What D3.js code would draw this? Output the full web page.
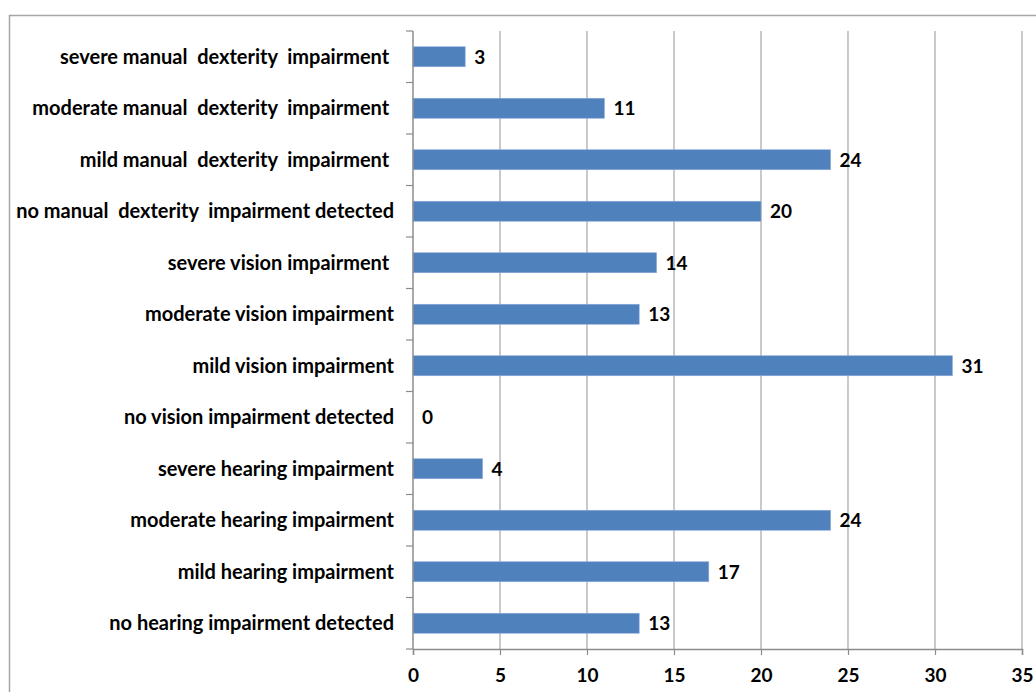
<!DOCTYPE html>
<html>
<head>
<meta charset="utf-8">
<script src="https://cdn.jsdelivr.net/npm/d3@7"></script>
<style>
  body { margin: 0; background: #fff; }
  text { font-family: Lato, "Open Sans", sans-serif; font-weight: bold; fill: #000; white-space: pre; }
</style>
</head>
<body>
<svg id="chart"></svg>
<script>
// categories top to bottom, as shown
const categories = [
  "severe manual  dexterity  impairment ",
  "moderate manual  dexterity  impairment ",
  "mild manual  dexterity  impairment ",
  "no manual  dexterity  impairment detected",
  "severe vision impairment ",
  "moderate vision impairment",
  "mild vision impairment",
  "no vision impairment detected",
  "severe hearing impairment",
  "moderate hearing impairment",
  "mild hearing impairment",
  "no hearing impairment detected"
];
const values = [3, 11, 24, 20, 14, 13, 31, 0, 4, 24, 17, 13];
const xTicks = [0, 5, 10, 15, 20, 25, 30, 35];

const width = 1036, height = 692;
const plot = { left: 413, right: 1022, top: 31, bottom: 649 };

const svg = d3.select("#chart").attr("width", width).attr("height", height);

// outer chart frame, runs off the right and bottom
svg.append("rect")
  .attr("x", 9.5).attr("y", 15.5)
  .attr("width", 1040).attr("height", 700)
  .attr("fill", "none").attr("stroke", "#a6a6a6").attr("stroke-width", 1.5);

const x = d3.scaleLinear().domain([0, 35]).range([plot.left, plot.right]);
const y = d3.scaleBand().domain(categories).range([plot.top, plot.bottom]);

// vertical gridlines
svg.selectAll(".grid")
  .data(xTicks.slice(1)).enter()
  .append("line")
  .attr("class", "grid")
  .attr("x1", d => x(d)).attr("x2", d => x(d))
  .attr("y1", plot.top).attr("y2", plot.bottom)
  .attr("stroke", "#a6a6a6").attr("stroke-width", 1.2);

// bars
svg.selectAll(".bar")
  .data(values).enter()
  .append("rect")
  .attr("class", "bar")
  .attr("x", x(0))
  .attr("y", (d, i) => y(categories[i]) + y.bandwidth() / 2 - 10)
  .attr("width", d => x(d) - x(0))
  .attr("height", 20)
  .attr("fill", "#4f81bd")
  .attr("stroke", "#8eaadb").attr("stroke-width", 0.6);

// value labels
svg.selectAll(".val")
  .data(values).enter()
  .append("text")
  .attr("class", "val")
  .attr("x", d => x(d) + 9)
  .attr("y", (d, i) => y(categories[i]) + y.bandwidth() / 2)
  .attr("dy", "0.38em")
  .attr("font-size", 19)
  .text(d => d);

// x axis
const xAxis = d3.axisBottom(x).tickValues(xTicks).tickSize(6).tickPadding(14);
const gx = svg.append("g")
  .attr("transform", `translate(0,${plot.bottom})`)
  .call(xAxis);
gx.select(".domain").attr("stroke", "#8c8c8c").attr("stroke-width", 1.5);
gx.selectAll(".tick line").attr("stroke", "#8c8c8c").attr("stroke-width", 1.2);
gx.selectAll(".tick text").attr("font-size", 19).attr("font-family", null);

// y axis: ticks at category boundaries
const gy = svg.append("g");
gy.append("line")
  .attr("x1", plot.left).attr("x2", plot.left)
  .attr("y1", plot.top).attr("y2", plot.bottom)
  .attr("stroke", "#8c8c8c").attr("stroke-width", 1.5);
const bounds = categories.map(c => y(c)).concat([plot.bottom]);
gy.selectAll(".ytick")
  .data(bounds).enter()
  .append("line")
  .attr("class", "ytick")
  .attr("x1", plot.left - 7).attr("x2", plot.left)
  .attr("y1", d => d).attr("y2", d => d)
  .attr("stroke", "#8c8c8c").attr("stroke-width", 1.2);

gy.selectAll(".cat")
  .data(categories).enter()
  .append("text")
  .attr("class", "cat")
  .attr("x", 394)
  .attr("y", d => y(d) + y.bandwidth() / 2)
  .attr("dy", "0.36em")
  .attr("text-anchor", "end")
  .attr("font-size", 20)
  .text(d => d);
</script>
</body>
</html>
